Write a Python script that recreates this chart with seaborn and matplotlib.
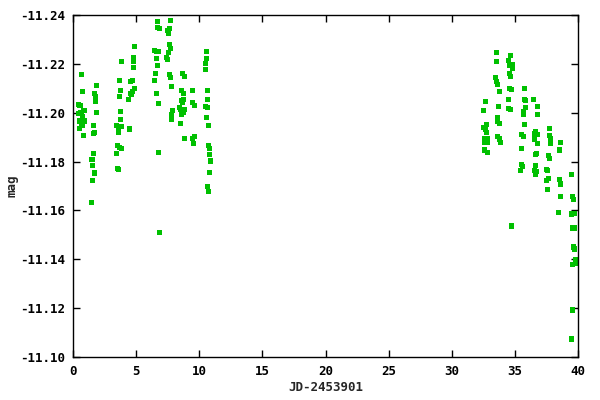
import matplotlib
matplotlib.use("Agg")
import matplotlib.pyplot as plt
import seaborn as sns
import pandas as pd

# Julian date offset (JD-2453901)
jd = [
    # night ~0.6
    0.68, 0.76, 0.42, 0.55, 0.87, 0.63, 0.42, 0.74, 0.87, 0.52, 0.71, 0.52, 0.84,
    # night ~1.7
    1.87, 1.71, 1.79, 1.79, 1.87, 1.63, 1.71, 1.63, 1.63, 1.50, 1.55, 1.71, 1.55, 1.47,
    # night ~3.7
    3.85, 3.69, 3.77, 3.69, 3.77, 3.77, 3.45, 3.85, 3.61, 3.61, 3.53, 3.69, 3.85, 3.45, 3.53, 3.61,
    # night ~4.7
    4.88, 4.80, 4.80, 4.80, 4.56, 4.72, 4.88, 4.72, 4.56, 4.64, 4.40, 4.48,
    # night ~6.7
    6.70, 6.70, 6.86, 6.46, 6.62, 6.78, 6.62, 6.70, 6.54, 6.46, 6.62, 6.78, 6.78, 6.86,
    # night ~7.7
    7.73, 7.65, 7.49, 7.57, 7.65, 7.73, 7.57, 7.41, 7.49, 7.65, 7.73, 7.81, 7.89, 7.81, 7.81, 7.81,
    # night ~8.7
    8.68, 8.84, 8.60, 8.76, 8.76, 8.60, 8.68, 8.44, 8.52, 8.84, 8.76, 8.60, 8.52, 8.84,
    # night ~9.5
    9.47, 9.47, 9.63, 9.63, 9.47, 9.55,
    # night ~10.7
    10.58, 10.58, 10.50, 10.50, 10.66, 10.66, 10.50, 10.66, 10.58, 10.74, 10.74, 10.81,
    10.81, 10.89, 10.81, 10.66, 10.74,
    # night ~32.7
    32.67, 32.51, 32.75, 32.51, 32.67, 32.75, 32.59, 32.83, 32.59, 32.83, 32.59, 32.83,
    # night ~33.6
    33.54, 33.54, 33.46, 33.54, 33.62, 33.78, 33.70, 33.62, 33.62, 33.78, 33.62, 33.78, 33.86,
    # night ~34.6
    34.65, 34.49, 34.57, 34.81, 34.81, 34.57, 34.65, 34.57, 34.73, 34.49, 34.49, 34.65, 34.73,
    # night ~35.7
    35.76, 35.76, 35.84, 35.84, 35.68, 35.68, 35.76, 35.52, 35.68, 35.52, 35.52, 35.60, 35.44,
    # night ~36.6
    36.47, 36.78, 36.78, 36.63, 36.55, 36.78, 36.55, 36.78, 36.71, 36.63, 36.63, 36.55, 36.71, 36.63,
    # night ~37.7
    37.74, 37.74, 37.82, 37.82, 37.66, 37.74, 37.50, 37.58, 37.66, 37.50, 37.58,
    # night ~38.5
    38.61, 38.53, 38.53, 38.61, 38.61, 38.45,
    # night ~39.6
    39.48, 39.56, 39.64, 39.48, 39.71, 39.56, 39.71, 39.64, 39.71, 39.79, 39.56, 39.79, 39.56, 39.48,
]

mag = [
    -11.2157, -11.2088, -11.2035, -11.2029, -11.2010, -11.2000, -11.1998, -11.1984, -11.1966,
    -11.1966, -11.1950, -11.1937, -11.1908,
    -11.2112, -11.2080, -11.2066, -11.2045, -11.2002, -11.1949, -11.1920, -11.1916, -11.1834,
    -11.1810, -11.1785, -11.1753, -11.1724, -11.1634,
    -11.2211, -11.2133, -11.2092, -11.2067, -11.2006, -11.1973, -11.1949, -11.1945, -11.1933,
    -11.1920, -11.1867, -11.1859, -11.1855, -11.1834, -11.1773, -11.1769,
    -11.2272, -11.2225, -11.2209, -11.2186, -11.2129, -11.2133, -11.2100, -11.2088, -11.2078,
    -11.2076, -11.2055, -11.1933,
    -11.2374, -11.2350, -11.2346, -11.2256, -11.2252, -11.2252, -11.2223, -11.2194, -11.2162,
    -11.2133, -11.2080, -11.2039, -11.1838, -11.1511,
    -11.2378, -11.2346, -11.2337, -11.2325, -11.2280, -11.2264, -11.2247, -11.2227, -11.2219,
    -11.2157, -11.2145, -11.2108, -11.2010, -11.1994, -11.1986, -11.1973,
    -11.2162, -11.2149, -11.2092, -11.2080, -11.2055, -11.2051, -11.2043, -11.2022, -11.2014,
    -11.2014, -11.2002, -11.1994, -11.1957, -11.1896,
    -11.2092, -11.2043, -11.2031, -11.1904, -11.1896, -11.1874,
    -11.2252, -11.2223, -11.2202, -11.2178, -11.2092, -11.2055, -11.2027, -11.2022, -11.1982,
    -11.1949, -11.1867, -11.1855, -11.1830, -11.1802, -11.1755, -11.1699, -11.1679,
    -11.2047, -11.2010, -11.1953, -11.1941, -11.1933, -11.1920, -11.1892, -11.1892, -11.1879,
    -11.1879, -11.1847, -11.1838,
    -11.2247, -11.2211, -11.2145, -11.2129, -11.2117, -11.2088, -11.2027, -11.1982, -11.1965,
    -11.1957, -11.1904, -11.1892, -11.1879,
    -11.2235, -11.2215, -11.2194, -11.2198, -11.2182, -11.2162, -11.2149, -11.2100, -11.2096,
    -11.2055, -11.2018, -11.2014, -11.1536,
    -11.2100, -11.2055, -11.2051, -11.2022, -11.2006, -11.1994, -11.1953, -11.1912, -11.1904,
    -11.1855, -11.1789, -11.1781, -11.1765,
    -11.2055, -11.2027, -11.1994, -11.1924, -11.1916, -11.1912, -11.1892, -11.1875, -11.1834,
    -11.1830, -11.1785, -11.1765, -11.1761, -11.1748,
    -11.1937, -11.1908, -11.1892, -11.1875, -11.1826, -11.1814, -11.1769, -11.1765, -11.1732,
    -11.1724, -11.1687,
    -11.1879, -11.1847, -11.1728, -11.1708, -11.1658, -11.1593,
    -11.1748, -11.1658, -11.1646, -11.1585, -11.1589, -11.1528, -11.1528, -11.1450, -11.1442,
    -11.1397, -11.1380, -11.1384, -11.1192, -11.1074,
]

x_ticks = [0, 5, 10, 15, 20, 25, 30, 35, 40]
y_ticks = [-11.24, -11.22, -11.20, -11.18, -11.16, -11.14, -11.12, -11.10]

df = pd.DataFrame({"jd": jd, "mag": mag})

sns.set_style("ticks")
plt.rcParams["font.family"] = ["DejaVu Sans Mono"]

fig = plt.figure(figsize=(6, 4), dpi=100)
ax = fig.add_axes([73 / 600, 1 - 357 / 400, 505 / 600, 342 / 400])

sns.scatterplot(data=df, x="jd", y="mag", ax=ax, marker="s", s=14,
                color="#00c000", linewidth=0, edgecolor="none", legend=False)

ax.set_xlim(0, 40)
ax.set_ylim(-11.10, -11.24)
ax.set_xticks(x_ticks)
ax.set_xticklabels([str(t) for t in x_ticks])
ax.set_yticks(y_ticks)
ax.set_yticklabels([f"{t:.2f}" for t in y_ticks])

ax.tick_params(direction="in", length=5, width=1, top=True, right=True,
               labelsize=9, pad=6, colors="black")
for lab in ax.get_xticklabels() + ax.get_yticklabels():
    lab.set_fontweight("bold")
for sp in ax.spines.values():
    sp.set_visible(True)
    sp.set_linewidth(1)
    sp.set_color("black")

ax.set_xlabel("JD-2453901", fontsize=9, fontweight="bold", va="center")
ax.xaxis.set_label_coords(0.5, -0.09)
ax.set_ylabel("mag", fontsize=9, fontweight="bold", va="center")
ax.yaxis.set_label_coords(-0.121, 0.5)

fig.savefig("out.png", dpi=100)
